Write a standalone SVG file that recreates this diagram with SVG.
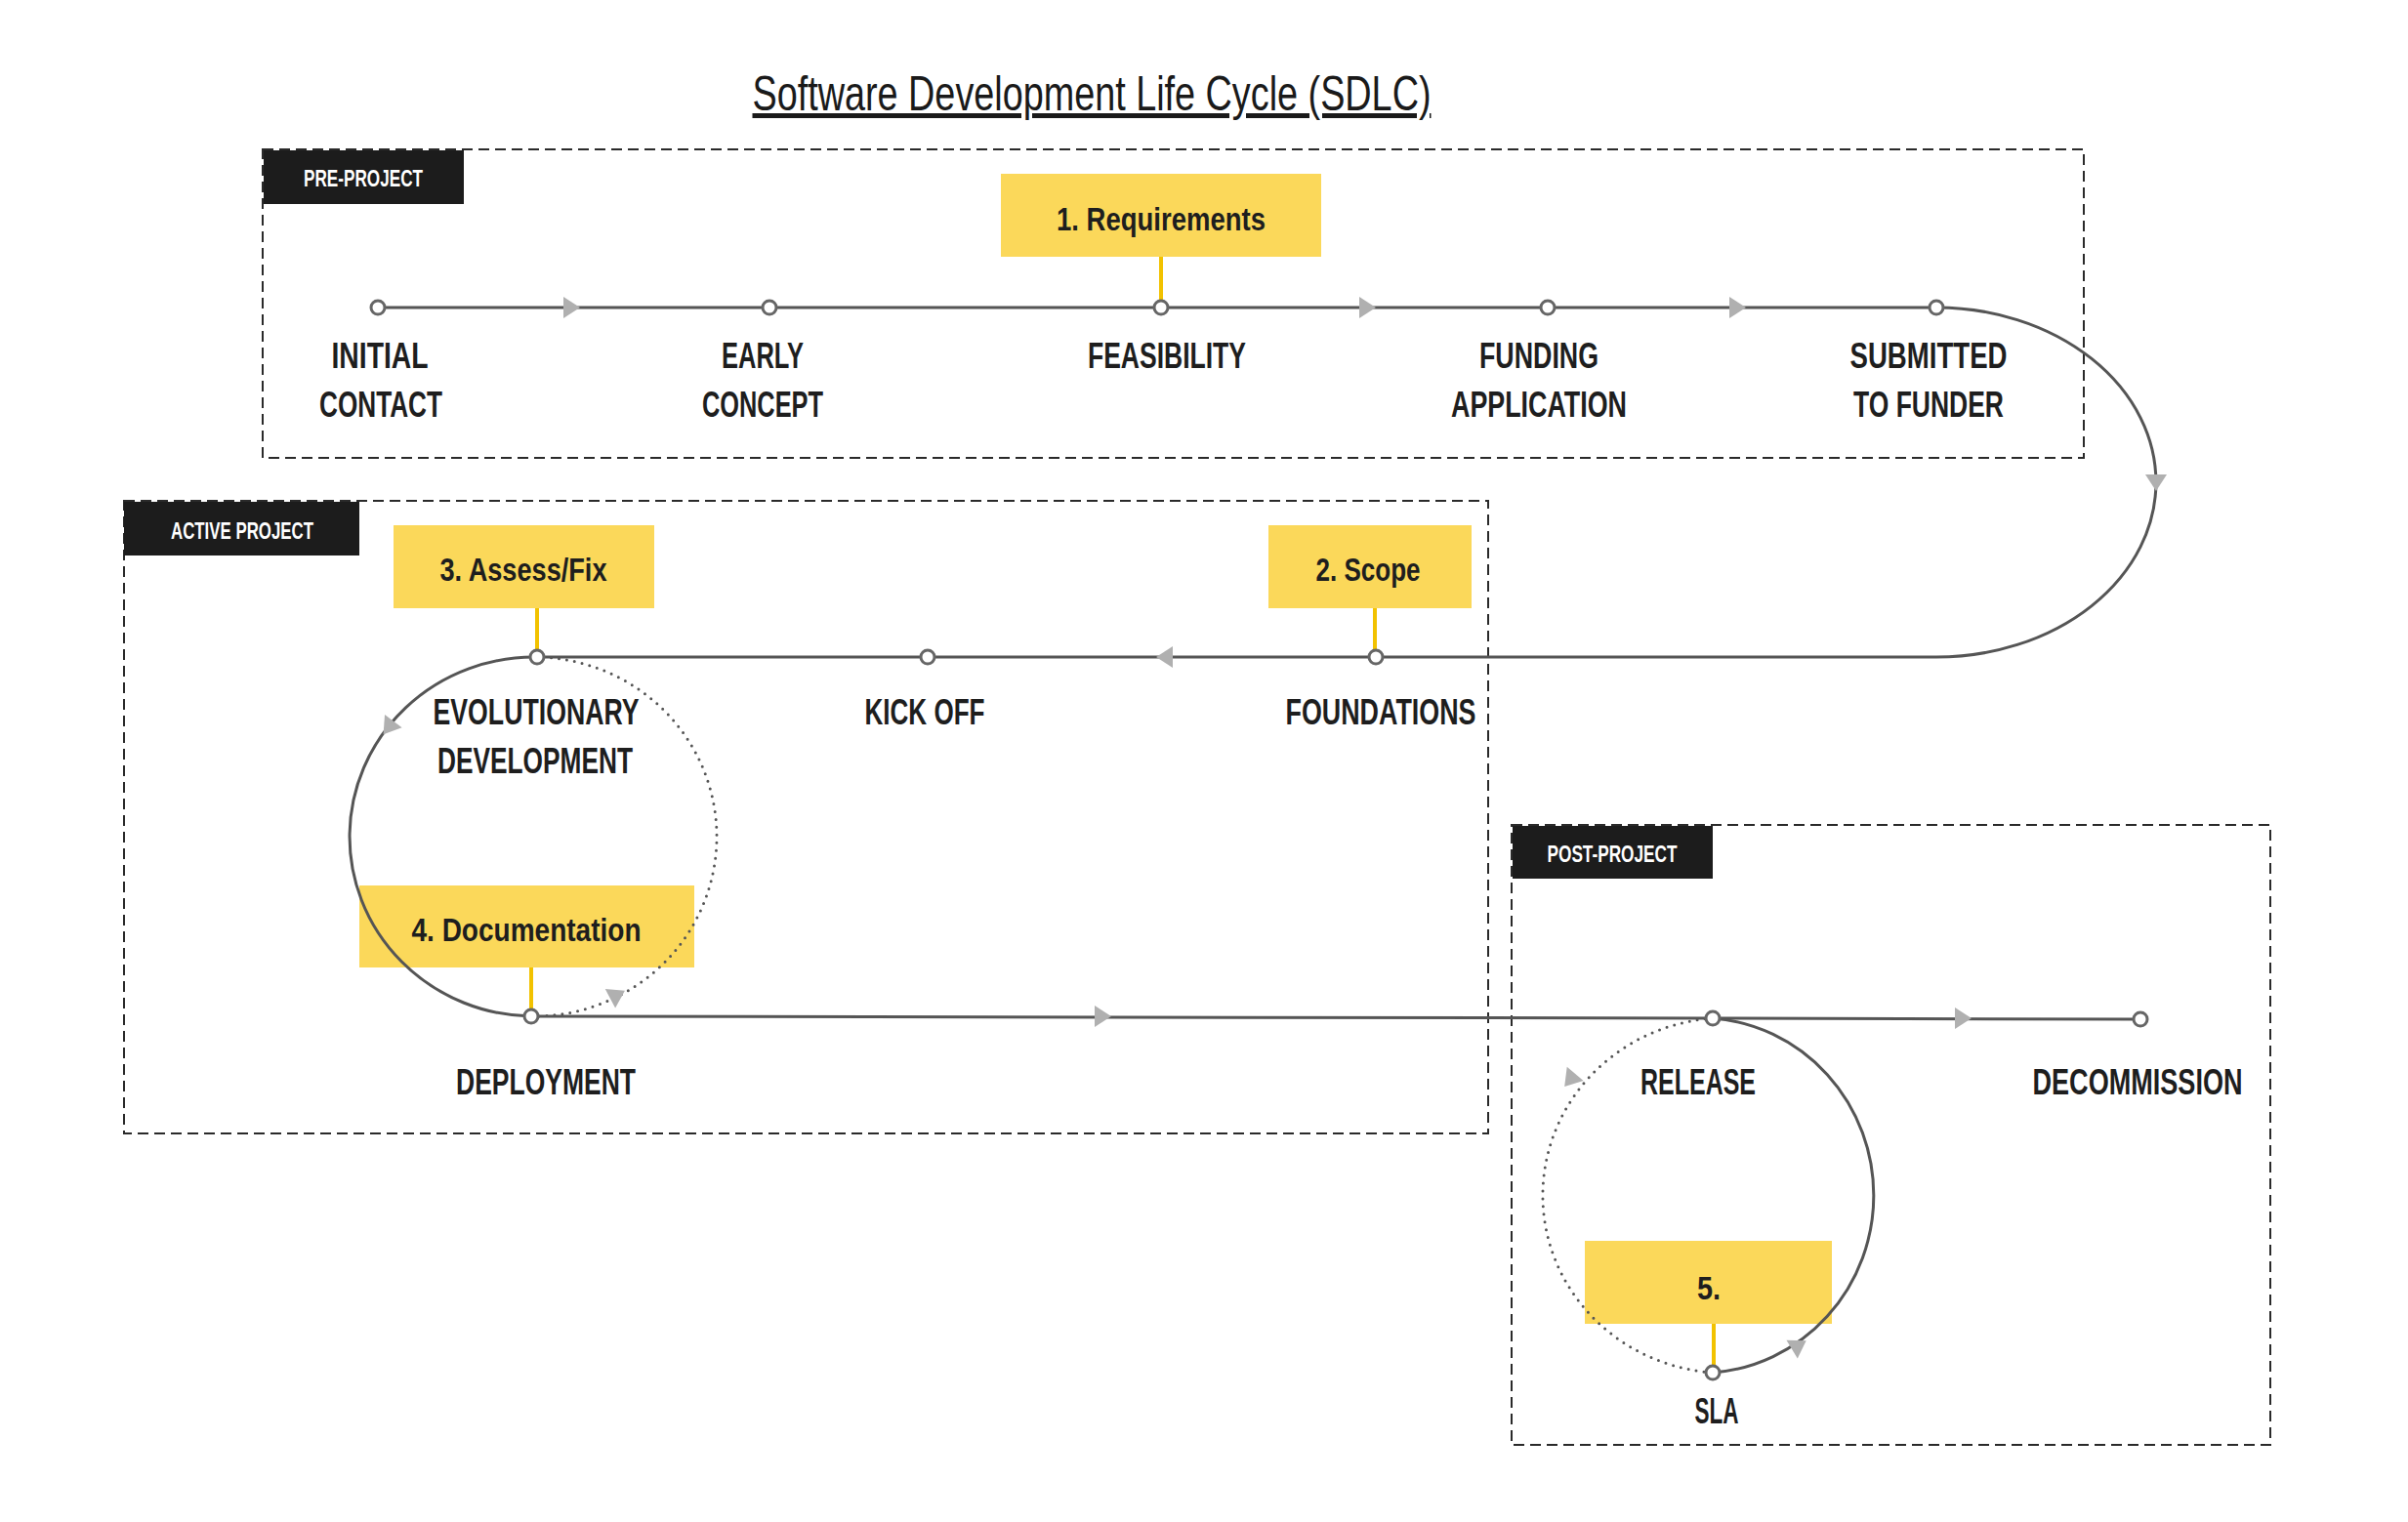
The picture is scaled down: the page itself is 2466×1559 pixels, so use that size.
<svg xmlns="http://www.w3.org/2000/svg" xmlns:xlink="http://www.w3.org/1999/xlink" width="2466" height="1559" viewBox="0 0 2466 1559">
<style>
.bg{fill:#ffffff}
.frame{fill:none;stroke:#2a2a2a;stroke-width:2;stroke-dasharray:11 6}
.tag{fill:#1c1c1c}
.tagt{font-family:'Liberation Sans Narrow','Liberation Sans',Arial,sans-serif;font-weight:bold;font-size:24px;fill:#ffffff;text-anchor:middle}
.title{font-family:'Liberation Sans Narrow','Liberation Sans',Arial,sans-serif;font-size:50px;fill:#1a1a1a;text-anchor:middle;text-decoration:underline}
.lbl{font-family:'Liberation Sans Narrow','Liberation Sans',Arial,sans-serif;font-weight:bold;font-size:37px;fill:#1e1e1e;text-anchor:middle}
.note{fill:#fbd85a}
.notet{font-family:'Liberation Sans Narrow','Liberation Sans',Arial,sans-serif;font-weight:bold;font-size:34px;fill:#1e1e1e;text-anchor:middle}
.stem{stroke:#f2c200;stroke-width:4;fill:none}
.line{fill:none;stroke:#555555;stroke-width:3}
.dot{fill:none;stroke:#555555;stroke-width:3;stroke-dasharray:0 8;stroke-linecap:round}
.node{fill:#ffffff;stroke:#666666;stroke-width:3}
.ah{fill:#b0b0b0}
</style>
<defs>
<path id="ah" class="ah" d="M-8,-11 L9,0 L-8,11 Z"/>
</defs>
<rect class="bg" x="0" y="0" width="2466" height="1559"/>

<text class="title" x="1118" y="113" textLength="695" lengthAdjust="spacingAndGlyphs">Software Development Life Cycle (SDLC)</text>

<g id="pre-project">
<rect class="frame" x="269" y="153" width="1865" height="316"/>
<rect class="tag" x="270" y="154" width="205" height="55"/>
<text class="tagt" x="372" y="191" textLength="122" lengthAdjust="spacingAndGlyphs">PRE-PROJECT</text>
</g>
<g id="active-project">
<rect class="frame" x="127" y="513" width="1397" height="648"/>
<rect class="tag" x="127" y="514" width="241" height="55"/>
<text class="tagt" x="248" y="552" textLength="146" lengthAdjust="spacingAndGlyphs">ACTIVE PROJECT</text>
</g>
<g id="post-project">
<rect class="frame" x="1548" y="845" width="777" height="635"/>
<rect class="tag" x="1549" y="846" width="205" height="54"/>
<text class="tagt" x="1651" y="883" textLength="133" lengthAdjust="spacingAndGlyphs">POST-PROJECT</text>
</g>

<g id="note-requirements">
<rect class="note" x="1025" y="178" width="328" height="85"/>
<text class="notet" x="1189" y="236" textLength="214" lengthAdjust="spacingAndGlyphs">1. Requirements</text>
<line class="stem" x1="1189" y1="263" x2="1189" y2="309"/>
</g>
<g id="note-scope">
<rect class="note" x="1299" y="538" width="208" height="85"/>
<text class="notet" x="1401" y="595" textLength="107" lengthAdjust="spacingAndGlyphs">2. Scope</text>
<line class="stem" x1="1408" y1="623" x2="1408" y2="667"/>
</g>
<g id="note-assess">
<rect class="note" x="403" y="538" width="267" height="85"/>
<text class="notet" x="536" y="595" textLength="171" lengthAdjust="spacingAndGlyphs">3. Assess/Fix</text>
<line class="stem" x1="550" y1="623" x2="550" y2="667"/>
</g>
<g id="note-documentation">
<rect class="note" x="368" y="907" width="343" height="84"/>
<text class="notet" x="539" y="964" textLength="235" lengthAdjust="spacingAndGlyphs">4. Documentation</text>
<line class="stem" x1="544" y1="991" x2="544" y2="1035"/>
</g>
<g id="note-5">
<rect class="note" x="1623" y="1271" width="253" height="85"/>
<text class="notet" x="1750" y="1331" textLength="24" lengthAdjust="spacingAndGlyphs">5.</text>
<line class="stem" x1="1755" y1="1356" x2="1755" y2="1400"/>
</g>

<g id="connectors">
<path class="line" d="M387,315 H1983"/>
<path class="line" d="M1983,315 A225,179 0 0 1 1983,673"/>
<path class="line" d="M1983,673 H550"/>
<path class="line" d="M550,673 A189,184 0 0 0 544,1041"/>
<path class="dot" d="M544,1041 A187,184 0 0 0 550,673"/>
<path class="line" d="M544,1041 L1754,1043 L2192,1044"/>
<path class="dot" d="M1754,1043 A188,182 0 0 0 1754,1406"/>
<path class="line" d="M1754,1406 A178,182 0 0 0 1754,1043"/>
<use href="#ah" transform="translate(585,315)"/>
<use href="#ah" transform="translate(1400,315)"/>
<use href="#ah" transform="translate(1779,315)"/>
<use href="#ah" transform="translate(2208,494) rotate(90)"/>
<use href="#ah" transform="translate(1193,673) rotate(180)"/>
<use href="#ah" transform="translate(398,745) rotate(127)"/>
<use href="#ah" transform="translate(632,1019) rotate(-28)"/>
<use href="#ah" transform="translate(1129,1041)"/>
<use href="#ah" transform="translate(2010,1043)"/>
<use href="#ah" transform="translate(1608,1106) rotate(130)"/>
<use href="#ah" transform="translate(1842,1378) rotate(-31)"/>
</g>

<g id="n-initial">
<circle class="node" cx="387" cy="315" r="7"/>
<text class="lbl" x="389" y="377" textLength="99" lengthAdjust="spacingAndGlyphs">INITIAL</text>
<text class="lbl" x="390" y="427" textLength="126" lengthAdjust="spacingAndGlyphs">CONTACT</text>
</g>
<g id="n-early">
<circle class="node" cx="788" cy="315" r="7"/>
<text class="lbl" x="781" y="377" textLength="84" lengthAdjust="spacingAndGlyphs">EARLY</text>
<text class="lbl" x="781" y="427" textLength="124" lengthAdjust="spacingAndGlyphs">CONCEPT</text>
</g>
<g id="n-feasibility">
<circle class="node" cx="1189" cy="315" r="7"/>
<text class="lbl" x="1195" y="377" textLength="162" lengthAdjust="spacingAndGlyphs">FEASIBILITY</text>
</g>
<g id="n-funding">
<circle class="node" cx="1585" cy="315" r="7"/>
<text class="lbl" x="1576" y="377" textLength="122" lengthAdjust="spacingAndGlyphs">FUNDING</text>
<text class="lbl" x="1576" y="427" textLength="180" lengthAdjust="spacingAndGlyphs">APPLICATION</text>
</g>
<g id="n-submitted">
<circle class="node" cx="1983" cy="315" r="7"/>
<text class="lbl" x="1975" y="377" textLength="161" lengthAdjust="spacingAndGlyphs">SUBMITTED</text>
<text class="lbl" x="1975" y="427" textLength="154" lengthAdjust="spacingAndGlyphs">TO FUNDER</text>
</g>
<g id="n-foundations">
<circle class="node" cx="1409" cy="673" r="7"/>
<text class="lbl" x="1414" y="742" textLength="195" lengthAdjust="spacingAndGlyphs">FOUNDATIONS</text>
</g>
<g id="n-kickoff">
<circle class="node" cx="950" cy="673" r="7"/>
<text class="lbl" x="947" y="742" textLength="123" lengthAdjust="spacingAndGlyphs">KICK OFF</text>
</g>
<g id="n-evolutionary">
<circle class="node" cx="550" cy="673" r="7"/>
<text class="lbl" x="549" y="742" textLength="211" lengthAdjust="spacingAndGlyphs">EVOLUTIONARY</text>
<text class="lbl" x="548" y="792" textLength="200" lengthAdjust="spacingAndGlyphs">DEVELOPMENT</text>
</g>
<g id="n-deployment">
<circle class="node" cx="544" cy="1041" r="7"/>
<text class="lbl" x="559" y="1121" textLength="184" lengthAdjust="spacingAndGlyphs">DEPLOYMENT</text>
</g>
<g id="n-release">
<circle class="node" cx="1754" cy="1043" r="7"/>
<text class="lbl" x="1739" y="1121" textLength="118" lengthAdjust="spacingAndGlyphs">RELEASE</text>
</g>
<g id="n-decommission">
<circle class="node" cx="2192" cy="1044" r="7"/>
<text class="lbl" x="2189" y="1121" textLength="215" lengthAdjust="spacingAndGlyphs">DECOMMISSION</text>
</g>
<g id="n-sla">
<circle class="node" cx="1754" cy="1406" r="7"/>
<text class="lbl" x="1758" y="1458" textLength="45" lengthAdjust="spacingAndGlyphs">SLA</text>
</g>
</svg>
